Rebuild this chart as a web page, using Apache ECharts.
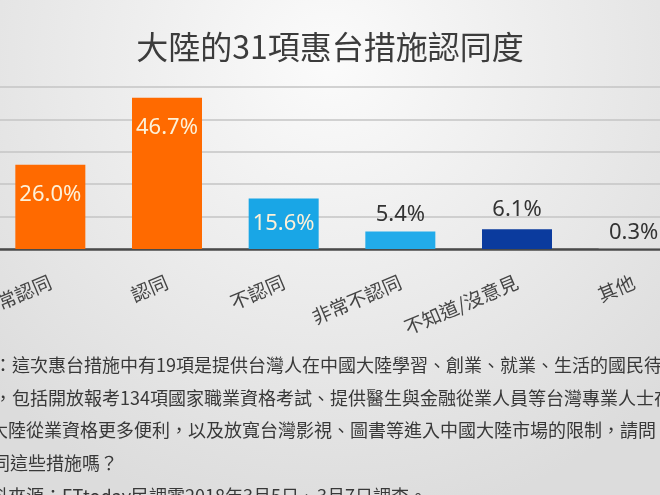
<!DOCTYPE html>
<html>
<head>
<meta charset="utf-8">
<script src="https://cdn.jsdelivr.net/npm/echarts@6/dist/echarts.min.js"></script>
<style>
html,body{margin:0;padding:0;background:#eaeaea;}
#chart{width:660px;height:495px;}
</style>
</head>
<body>
<div id="chart"></div>
<script>
const titleText = '大陸的31項惠台措施認同度';
const categories = ['非常認同', '認同', '不認同', '非常不認同', '不知道/沒意見', '其他'];
const values = [26.0, 46.7, 15.6, 5.4, 6.1, 0.3];
const barColors = ['#ff6a00', '#ff6a00', '#19a6e6', '#22abea', '#0b3b9e', '#8c8c8c'];
const labelInside = [true, true, true, false, false, false];
const yMin = 0, yMax = 50, yInterval = 10;
const noteLines = [
  '問題：這次惠台措施中有19項是提供台灣人在中國大陸學習、創業、就業、生活的國民待遇',
  '遇，包括開放報考134項國家職業資格考試、提供醫生與金融從業人員等台灣專業人士在',
  '在大陸從業資格更多便利，以及放寬台灣影視、圖書等進入中國大陸市場的限制，請問',
  '認同這些措施嗎？',
  '資料來源：ETtoday民調雲2018年3月5日、3月7日調查。'
];
const noteX = [-42, -24, -28, -26, -28];
const noteY = [365, 398, 430, 463, 496];

const chart = echarts.init(document.getElementById('chart'));
const cjk = '"Noto Sans CJK TC", "Noto Sans", sans-serif';

const data = values.map((v, i) => ({
  value: v,
  itemStyle: { color: barColors[i] },
  label: labelInside[i]
    ? { position: 'insideTop', distance: i === 2 ? 14 : 19, color: '#fdf1d8' }
    : { position: 'top', distance: i === 5 ? 4 : (i === 4 ? 9 : 6), color: '#333333' }
}));

chart.setOption({
  backgroundColor: new echarts.graphic.RadialGradient(0.5, 0.12, 0.95, [
    { offset: 0, color: '#fbfbfb' },
    { offset: 1, color: '#dcdcdc' }
  ]),
  animation: false,
  title: {
    text: titleText,
    left: 'center',
    top: 26,
    textStyle: { fontFamily: cjk, fontSize: 32, fontWeight: 'normal', color: '#3c3c3c' }
  },
  grid: { left: -8, width: 700, top: 87, height: 162, containLabel: false, outerBoundsMode: 'none' },
  xAxis: {
    type: 'category',
    data: categories,
    axisLine: { show: true, lineStyle: { color: '#4a4a4a', width: 2.5 } },
    axisTick: { show: false },
    axisLabel: {
      rotate: 23,
      margin: 32,
      interval: 0,
      fontFamily: cjk,
      fontSize: 19,
      color: '#444444'
    }
  },
  yAxis: {
    type: 'value',
    min: yMin,
    max: yMax,
    interval: yInterval,
    axisLabel: { show: false },
    axisLine: { show: false },
    axisTick: { show: false },
    splitLine: { lineStyle: { color: '#c4c4c4', width: 1.5 } }
  },
  series: [{
    type: 'bar',
    data: data,
    barWidth: 70,
    label: {
      show: true,
      formatter: p => p.value.toFixed(1) + '%',
      fontFamily: '"Noto Sans", sans-serif',
      fontSize: 22
    }
  }],
  graphic: noteLines.map((t, i) => ({
    type: 'text',
    x: noteX[i],
    y: noteY[i],
    style: {
      text: t,
      font: '18px "Noto Sans CJK TC"',
      fill: '#383838',
      textVerticalAlign: 'middle'
    }
  }))
});
</script>
</body>
</html>
